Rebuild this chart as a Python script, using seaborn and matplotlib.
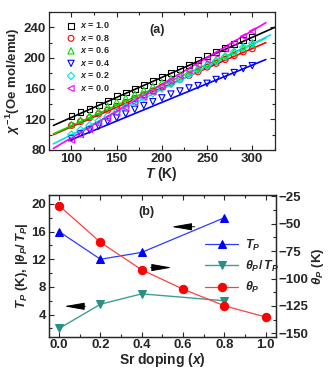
import numpy as np
import pandas as pd
import matplotlib
matplotlib.use("Agg")
import matplotlib.pyplot as plt
from matplotlib.ticker import MultipleLocator
import seaborn as sns

sns.set_style("ticks")
plt.rcParams['font.family'] = ['Liberation Sans', 'DejaVu Sans']
plt.rcParams['font.weight'] = 'bold'
plt.rcParams['axes.labelweight'] = 'bold'
plt.rcParams['mathtext.fontset'] = 'custom'
plt.rcParams['mathtext.it'] = 'Liberation Sans:italic:bold'
plt.rcParams['mathtext.rm'] = 'Liberation Sans:bold'
plt.rcParams['mathtext.bf'] = 'Liberation Sans:bold'

# ---------------- data panel (a) ----------------
T = [100, 110, 120, 130, 140, 150, 160, 170, 180, 190, 200,
     210, 220, 230, 240, 250, 260, 270, 280, 290, 300]
labels_a = ["$x$ = 1.0", "$x$ = 0.8", "$x$ = 0.6", "$x$ = 0.4", "$x$ = 0.2", "$x$ = 0.0"]
chi_10 = [124, 129, 134, 139, 144, 150, 155, 160, 165, 170, 175, 180, 186, 191, 197, 203, 208, 213, 218, 223, 227]
chi_08 = [112, 117, 122, 127, 132, 137, 142, 147, 152, 157, 162, 167, 172, 177, 182, 188, 193, 198, 203, 208, 212]
chi_06 = [113, 119, 125, 131, 137, 143, 148, 153, 158, 163, 168, 173, 178, 183, 188, 193, 198, 203, 208, 213, 218]
chi_04 = [95, 101, 106, 111, 117, 122, 127, 133, 138, 143, 148, 153, 157, 161, 164, 167, 172, 176, 181, 186, 190]
chi_02 = [100, 106, 112, 118, 124, 130, 136, 142, 148, 154, 160, 166, 172, 178, 184, 190, 196, 202, 208, 214, 219]
chi_00 = [93, 100, 107, 114, 121, 128, 135, 142, 149, 156, 163, 170, 177, 184, 191, 198, 205, 212, 220, 228, 235]
# fit lines: (T_start, T_end), (chi_start, chi_end)
fit_T = [[80, 325], [80, 315], [80, 315], [97, 315], [80, 320], [80, 315]]
fit_chi = [[112, 240], [100, 220], [101, 226], [92, 198], [88, 230], [82, 246]]

# ---------------- data panel (b) ----------------
x_T = [0.0, 0.2, 0.4, 0.8]
TP = [16, 12, 13, 18]
ratio = [2, 5.5, 7, 6]
x_theta = [0.0, 0.2, 0.4, 0.6, 0.8, 1.0]
thetaP = [-33.6, -67, -92, -109.6, -124.8, -135]

colors_a = ['#000000', '#ff0000', '#00dd00', '#0000ff', '#00e5e5', '#ff00ff']
markers_a = ['s', 'o', '^', 'v', 'D', '<']
msizes = [18, 18, 20, 20, 14, 20]
series = [chi_10, chi_08, chi_06, chi_04, chi_02, chi_00]

fig = plt.figure(figsize=(3.28, 3.74), dpi=100)
ax1 = fig.add_axes([0.149, 0.599, 0.689, 0.369])
ax2 = fig.add_axes([0.149, 0.0997, 0.692, 0.379])
ax3 = ax2.twinx()

for i, s in enumerate(series):
    df = pd.DataFrame({'T': T, 'chi': s})
    sns.scatterplot(data=df, x='T', y='chi', ax=ax1, marker=markers_a[i], s=msizes[i],
                    facecolor='none', edgecolor=colors_a[i], linewidth=0.8,
                    label=labels_a[i], zorder=3)
for i in range(6):
    dfl = pd.DataFrame({'T': fit_T[i], 'chi': fit_chi[i]})
    sns.lineplot(data=dfl, x='T', y='chi', ax=ax1, color=colors_a[i], lw=1.2,
                 legend=False, zorder=2)

ax1.set_xlim(75, 325)
ax1.set_ylim(80, 260)
ax1.xaxis.set_major_locator(MultipleLocator(50))
ax1.xaxis.set_minor_locator(MultipleLocator(25))
ax1.yaxis.set_minor_locator(MultipleLocator(20))
ax1.set_yticks([80, 120, 160, 200, 240])
ax1.set_xlabel("$T$ (K)", fontsize=10, labelpad=0)
ax1.set_ylabel(r"$\chi^{\,\mathregular{-1}}$(Oe mol/emu)", fontsize=9.5, labelpad=1)
ax1.text(0.48, 0.87, "(a)", transform=ax1.transAxes, fontsize=9, fontweight='bold', ha='center', va='center')
leg = ax1.legend(loc='upper left', frameon=False, fontsize=6.5, handletextpad=0.4,
                 labelspacing=0.28, borderaxespad=0.2, bbox_to_anchor=(0.05, 0.98),
                 handlelength=1.2)

# panel (b)
df_tp = pd.DataFrame({'x': x_T, 'v': TP})
df_r = pd.DataFrame({'x': x_T, 'v': ratio})
df_th = pd.DataFrame({'x': x_theta, 'v': thetaP})
sns.lineplot(data=df_tp, x='x', y='v', ax=ax2, color='#2b3bff', lw=0.9, marker='^',
             markersize=6, markerfacecolor='#0000ff', markeredgecolor='#0000ff', label='$T_P$')
sns.lineplot(data=df_r, x='x', y='v', ax=ax2, color='#3a9f96', lw=1.0, marker='v',
             markersize=6, markerfacecolor='#2a8f86', markeredgecolor='#2a8f86', label=r'$\theta_P/\,T_P$')
sns.lineplot(data=df_th, x='x', y='v', ax=ax3, color='#ff4040', lw=0.9, marker='o',
             markersize=6, markerfacecolor='#ff0000', markeredgecolor='#ff0000', label=r'$\theta_P$')

ax2.set_xlim(-0.05, 1.05)
ax2.set_ylim(0.8, 21.3)
ax3.set_ylim(-153, -23.8)
ax2.xaxis.set_minor_locator(MultipleLocator(0.1))
ax2.set_yticks([4, 8, 12, 16, 20])
ax2.yaxis.set_minor_locator(MultipleLocator(2))
ax3.set_yticks([-150, -125, -100, -75, -50, -25])
ax3.yaxis.set_minor_locator(MultipleLocator(12.5))
ax2.set_xticks([0.0, 0.2, 0.4, 0.6, 0.8, 1.0])
ax2.set_xticklabels(['0.0', '0.2', '0.4', '0.6', '0.8', '1.0'])
ax2.set_xlabel("Sr doping ($x$)", fontsize=10, labelpad=0)
ax2.set_ylabel(r"$T_P$ (K), $|\theta_P/\,T_P|$", fontsize=9.5, labelpad=1)
ax3.set_ylabel(r"$\theta_P$ (K)", fontsize=9.5, labelpad=1)
ax2.text(0.43, 0.88, "(b)", transform=ax2.transAxes, fontsize=9, fontweight='bold', ha='center', va='center')

h2, l2 = ax2.get_legend_handles_labels()
h3, l3 = ax3.get_legend_handles_labels()
if ax2.get_legend():
    ax2.get_legend().remove()
if ax3.get_legend():
    ax3.get_legend().remove()
ax3.legend(h2 + h3, l2 + l3, loc='upper left', bbox_to_anchor=(0.64, 0.78), frameon=False,
           fontsize=9, handlelength=2.6, labelspacing=0.5, handletextpad=0.6)

arr = dict(arrowstyle='-|>,head_length=1.25,head_width=0.22', color='k', lw=0.7)
ax2.annotate('', xy=(0.53, 16.7), xytext=(0.67, 16.7), arrowprops=arr)
ax2.annotate('', xy=(0.56, 10.8), xytext=(0.43, 10.8), arrowprops=arr)
ax2.annotate('', xy=(0.01, 5.2), xytext=(0.14, 5.2), arrowprops=arr)

for ax in (ax1, ax2, ax3):
    ax.tick_params(which='both', direction='in', labelsize=9.5, width=0.8, pad=2)
    ax.tick_params(which='major', length=3.5)
    ax.tick_params(which='minor', length=2)
    for sp in ax.spines.values():
        sp.set_linewidth(0.9)
    for lab in ax.get_xticklabels() + ax.get_yticklabels():
        lab.set_fontweight('bold')
ax1.tick_params(which='both', top=True, right=True)
ax2.tick_params(which='both', top=True)

fig.savefig("out.png", dpi=100)
